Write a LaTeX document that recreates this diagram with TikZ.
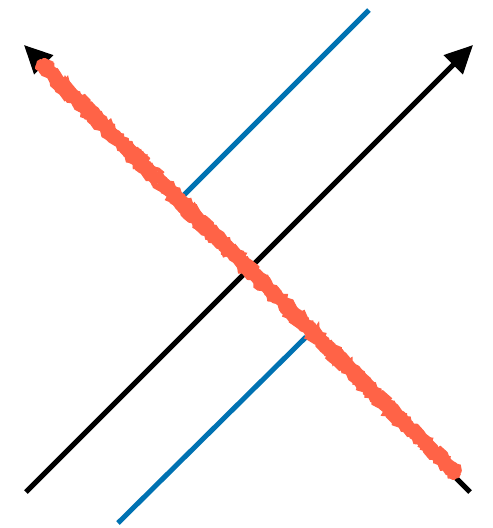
\documentclass[tikz,border=0pt]{standalone}
\usetikzlibrary{arrows.meta,decorations.pathmorphing}
\definecolor{rough}{RGB}{255,99,71}
\definecolor{bl}{RGB}{0,114,178}
\tikzset{
  axis/.style={line width=5pt,black,-{Triangle[length=28pt,width=26pt]}},
  bluel/.style={line width=5pt,bl},
  sketch/.style={rough,line width=#1,line cap=round,decorate,decoration={random steps,segment length=4pt,amplitude=2.5pt}},
}
\begin{document}
\begin{tikzpicture}[x=1pt,y=-1pt]
\useasboundingbox (0,0) rectangle (493,528);
\coordinate (a1) at (26,492);
\coordinate (a2) at (473,45);
\coordinate (b1) at (470,492);
\coordinate (b2) at (24,45);
\coordinate (p1) at (118,523);
\coordinate (p2) at (306,337);
\coordinate (q1) at (183,196);
\coordinate (q2) at (369,10);
\coordinate (r1) at (41,64);
\coordinate (r2) at (456,474);
\draw[bluel] (p1) -- (p2);
\draw[bluel] (q1) -- (q2);
\draw[axis] (a1) -- (a2);
\draw[axis] (b1) -- (b2);
\pgfmathsetseed{7}
\draw[sketch=10pt] (r1) -- (r2);
\draw[sketch=6pt] ([shift={(3,-3)}]r1) -- ([shift={(3,-3)}]r2);
\draw[sketch=6pt] ([shift={(-3,3)}]r1) -- ([shift={(-3,3)}]r2);
\draw[sketch=4pt] ([shift={(4,-4)}]r1) -- ([shift={(2,-4)}]r2);
\draw[sketch=4pt] ([shift={(-4,4)}]r1) -- ([shift={(-2,4)}]r2);
\draw[sketch=3pt] ([shift={(0,0)}]r1) -- ([shift={(0,0)}]r2);
\end{tikzpicture}
\end{document}
